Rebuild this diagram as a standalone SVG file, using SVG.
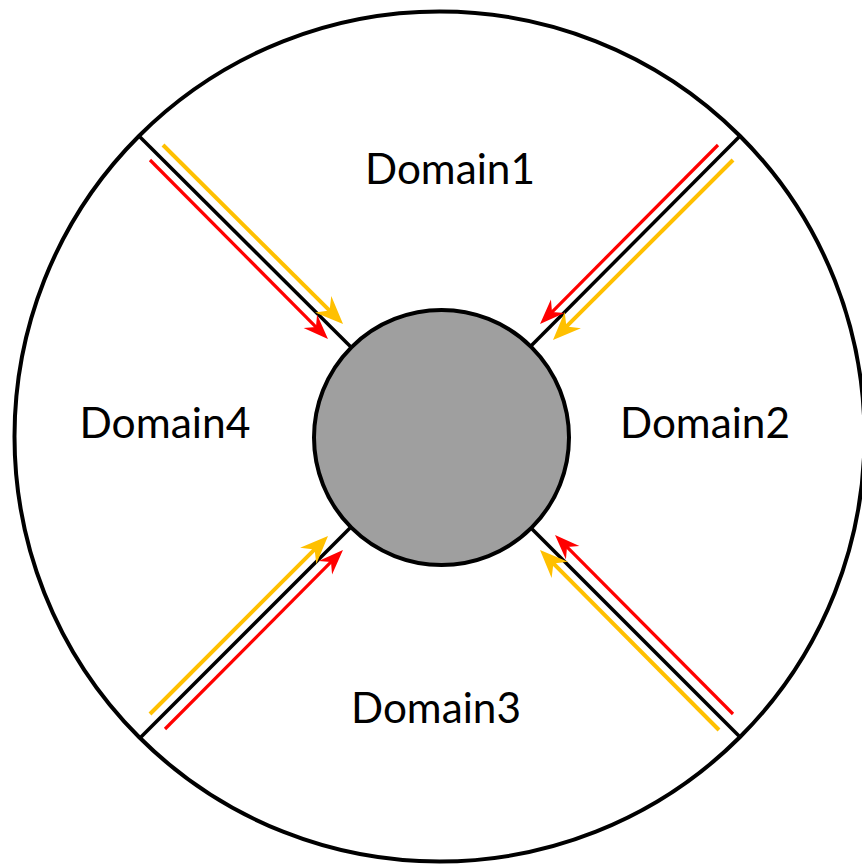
<svg xmlns="http://www.w3.org/2000/svg" width="862" height="865" viewBox="0 0 862 865">
<style>
.ring{fill:none;stroke:#000;stroke-width:4}
.hub{fill:#9f9f9f;stroke:#000;stroke-width:4}
.div{stroke:#000;stroke-width:3.5;fill:none}
.y{stroke:#FFC000;stroke-width:4;fill:none;marker-end:url(#hy)}
.r{stroke:#FF0000;stroke-width:3.2;fill:none;marker-end:url(#hr)}
.lbl{font-family:Lato,"Liberation Sans",sans-serif;font-size:42px;fill:#000;text-anchor:middle}
</style>
<defs>
<marker id="hy" markerUnits="userSpaceOnUse" viewBox="-14 -12 30 24" refX="0" refY="0" markerWidth="30" markerHeight="24" orient="auto">
<path d="M15,0 L-13,-11.5 L-4,0 L-13,11.5 Z" fill="#FFC000"/>
</marker>
<marker id="hr" markerUnits="userSpaceOnUse" viewBox="-13 -10 27 20" refX="0" refY="0" markerWidth="27" markerHeight="20" orient="auto">
<path d="M13,0 L-12,-9.5 L-4,0 L-12,9.5 Z" fill="#FF0000"/>
</marker>
</defs>
<g id="outer-ring"><circle class="ring" cx="439.5" cy="436.5" r="425"/></g>
<g id="connectors">
<line class="div" x1="139" y1="136" x2="370" y2="366"/>
<line class="div" x1="740" y1="136" x2="520" y2="357"/>
<line class="div" x1="141" y1="737" x2="360" y2="518"/>
<line class="div" x1="741" y1="738" x2="520" y2="517"/>
<line class="y" x1="163" y1="145" x2="332.4" y2="313.4"/>
<line class="r" x1="150" y1="160" x2="318.8" y2="329.8"/>
<line class="r" x1="718" y1="145" x2="549.2" y2="314.8"/>
<line class="y" x1="733" y1="160" x2="563.6" y2="329.4"/>
<line class="y" x1="150" y1="714" x2="317.4" y2="546.6"/>
<line class="r" x1="165" y1="729" x2="333.8" y2="559.2"/>
<line class="r" x1="733" y1="714" x2="564.2" y2="544.2"/>
<line class="y" x1="719" y1="730" x2="550.6" y2="560.6"/>
</g>
<g id="hub"><circle class="hub" cx="441.5" cy="437.5" r="127.5"/></g>
<g id="domain1"><text class="lbl" x="450" y="184" textLength="170" lengthAdjust="spacingAndGlyphs">Domain1</text></g>
<g id="domain2"><text class="lbl" x="705" y="438" textLength="170" lengthAdjust="spacingAndGlyphs">Domain2</text></g>
<g id="domain3"><text class="lbl" x="436" y="723" textLength="170" lengthAdjust="spacingAndGlyphs">Domain3</text></g>
<g id="domain4"><text class="lbl" x="165" y="438" textLength="171" lengthAdjust="spacingAndGlyphs">Domain4</text></g>
</svg>
